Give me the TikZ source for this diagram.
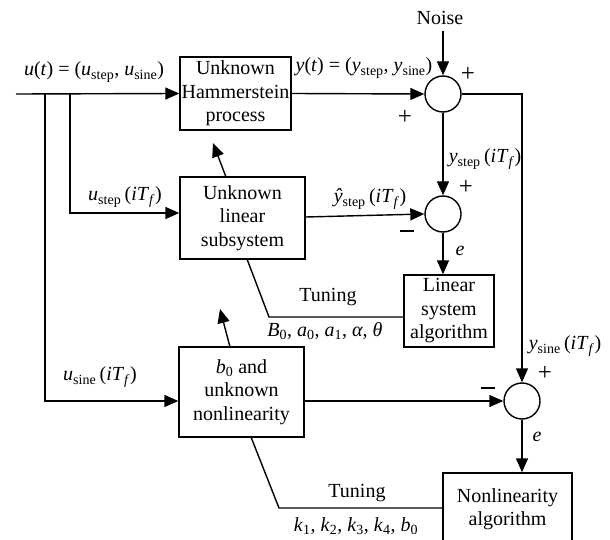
\documentclass[tikz,border=0pt]{standalone}
\usepackage{fontspec}
\setmainfont{Liberation Serif}
\usetikzlibrary{arrows.meta,calc}
\newcommand{\vv}[1]{\textit{#1}}
\newcommand{\sbs}[1]{\textsubscript{#1}}
\newcommand{\iTf}{(\vv{iT}\sbs{\vv{f}})}
\begin{document}
\begin{tikzpicture}[x=1pt,y=-1pt,
  font=\fontsize{20}{23.5}\selectfont,
  line width=1.4pt,
  >={Triangle[length=14pt,width=12pt]},
  blk/.style={draw, align=center, inner sep=0pt},
  sumc/.style={draw, circle, minimum size=36pt, inner sep=0pt},
  lbl/.style={inner sep=0pt},
  sgn/.style={inner sep=0pt, font=\fontsize{25}{26}\selectfont}]
\useasboundingbox (0,0) rectangle (610,540);
% boxes
\node[blk, minimum width=111pt, minimum height=73pt] (H) at (235.5,93.5) {Unknown\\Hammerstein\\process};
\node[blk, minimum width=125pt, minimum height=82pt] (L) at (242.5,218) {Unknown\\linear\\subsystem};
\node[blk, minimum width=125pt, minimum height=90pt] (N) at (241.5,392) {\vv{b}\sbs{0} and\\unknown\\nonlinearity};
\node[blk, minimum width=90pt, minimum height=72pt] (LA) at (449,311) {Linear\\system\\algorithm};
\node[blk, minimum width=129pt, minimum height=72pt] (NA) at (507.5,509) {Nonlinearity\\algorithm};
% summing junctions
\node[sumc] (S1) at (443,94) {};
\node[sumc] (S2) at (443,214) {};
\node[sumc] (S3) at (522,401) {};
% coordinates
\coordinate (in) at (16,94);
\coordinate (b1) at (45,94);
\coordinate (b2) at (70,94);
\coordinate (r1) at (522,94);
\coordinate (t1) at (269,317);
\coordinate (t2) at (279,508);
\coordinate (a1s) at (226,177);
\coordinate (a1e) at (213,143);
\coordinate (a2s) at (230,347);
\coordinate (a2e) at (220,309);
% labels
\node[lbl] (ut) at (94,72) {\vv{u}(\vv{t}) = (\vv{u}\sbs{step}, \vv{u}\sbs{sine})};
\node[lbl] (yt) at (364,68) {\vv{y}(\vv{t}) = (\vv{y}\sbs{step}, \vv{y}\sbs{sine})};
\node[lbl] (noise) at (440,18) {Noise};
\node[lbl] (ustep) at (125,197) {\vv{u}\sbs{step}\,\iTf};
\node[lbl] (usine) at (100,377) {\vv{u}\sbs{sine}\,\iTf};
\node[lbl] (ystep) at (485,159) {\vv{y}\sbs{step}\,\iTf};
\node[lbl] (yhat) at (370,199) {\vv{ŷ}\sbs{step}\,\iTf};
\node[lbl] (ysine) at (565,346) {\vv{y}\sbs{sine}\,\iTf};
\node[lbl] (e1) at (460,251) {\vv{e}};
\node[lbl] (e2) at (537,437) {\vv{e}};
\node[lbl] (tun1) at (328,297) {Tuning};
\node[lbl] (par1) at (325,331) {\vv{B}\sbs{0}, \vv{a}\sbs{0}, \vv{a}\sbs{1}, \vv{α}, \vv{θ}};
\node[lbl] (tun2) at (357,493) {Tuning};
\node[lbl] (par2) at (356,526) {\vv{k}\sbs{1}, \vv{k}\sbs{2}, \vv{k}\sbs{3}, \vv{k}\sbs{4}, \vv{b}\sbs{0}};
% signs
\node[sgn] (p1) at (468,74) {+};
\node[sgn] (p2) at (405,117) {+};
\node[sgn] (p3) at (466,187) {+};
\node[sgn] (p4) at (545,373) {+};
\node[inner sep=0pt] (m1) at (407,231) {\rule{14pt}{2.2pt}};
\node[inner sep=0pt] (m2) at (488,388) {\rule{14pt}{2.2pt}};
% connectors
\draw[->] (in) -- (H.west);
\draw[->] (b2) |- ($(L.west)+(0,-5)$);
\draw[->] (b1) |- ($(N.west)+(0,9)$);
\draw[->] (H.east) -- (S1.west);
\draw[->] (noise.south)+(3,6) -- (S1.north);
\draw[->] (S1.east) -- (r1) -- (S3.north);
\draw[->] (S1.south) -- (S2.north);
\draw[->] ($(L.east)+(0,-1)$) -- (S2.west);
\draw[->] (S2.south) -- (S2.south |- LA.north);
\draw[->] ($(N.east)+(0,9)$) -- (S3.west);
\draw[->] (S3.south) -- (S3.south |- NA.north);
\draw (LA.west |- t1) -- (t1) -- (247,259);
\draw (NA.west |- t2) -- (t2) -- (251,437);
\draw[->] (a1s) -- (a1e);
\draw[->] (a2s) -- (a2e);
\end{tikzpicture}
\end{document}
